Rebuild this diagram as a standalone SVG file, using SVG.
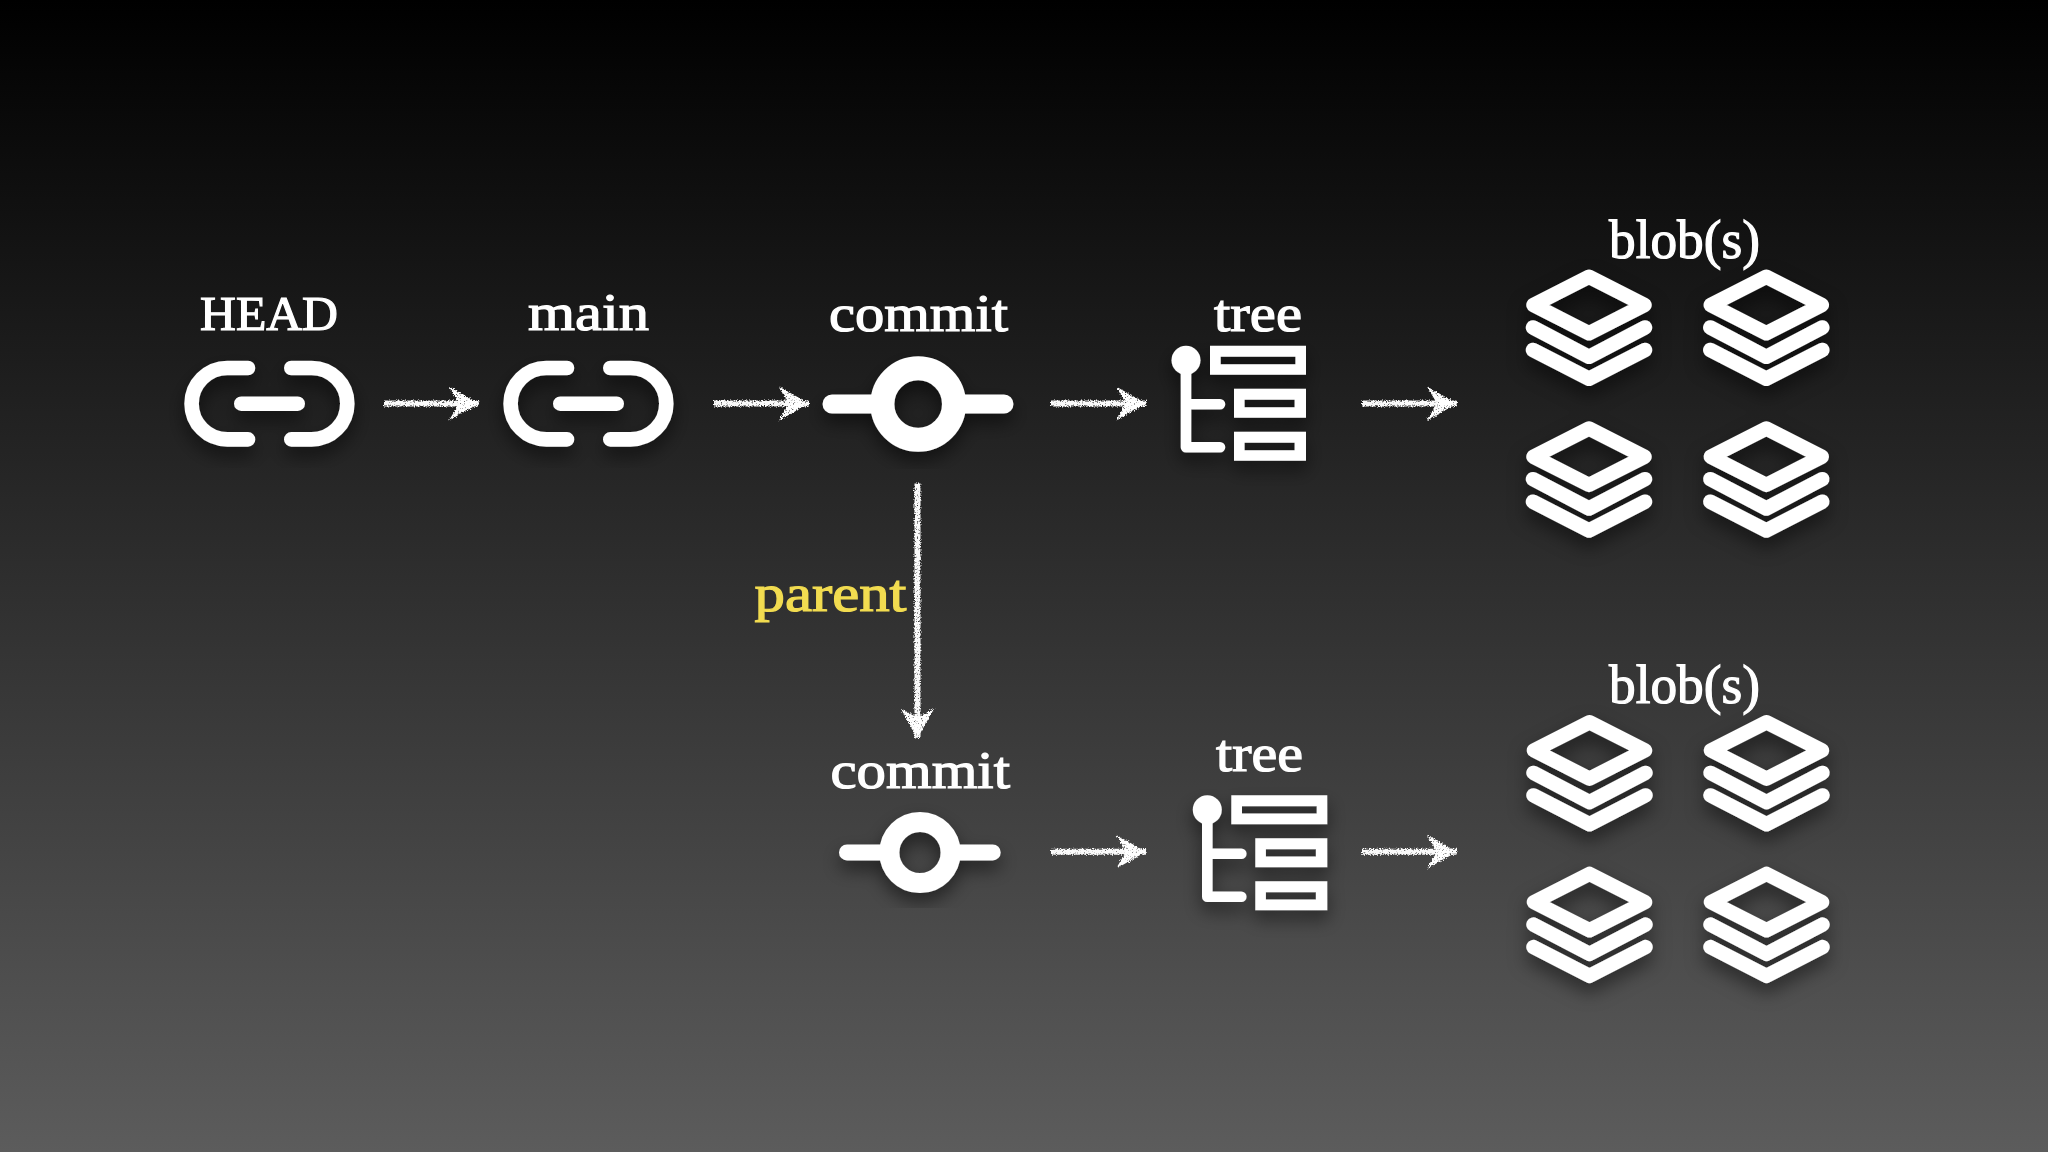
<svg xmlns="http://www.w3.org/2000/svg" width="2048" height="1152" viewBox="0 0 2048 1152">
<style>
.t{font-family:"Liberation Serif","Noto Serif",serif;fill:#fff;stroke:#fff;stroke-width:1.2;text-anchor:start}
.i{fill:none;stroke:#fff;stroke-linecap:round;stroke-linejoin:round}
.f{fill:#fff;stroke:none}
.c{fill:none;stroke:#fafafa;stroke-width:6}
</style>
<defs>
<linearGradient id="bg" x1="0" y1="0" x2="0" y2="1"><stop offset="0" stop-color="#000"/><stop offset="1" stop-color="#5c5c5c"/></linearGradient>
<filter id="sh" x="-30%" y="-30%" width="160%" height="170%"><feDropShadow dx="0" dy="9" stdDeviation="9" flood-color="#000" flood-opacity=".5"/></filter>
<filter id="chalk" filterUnits="userSpaceOnUse" x="0" y="0" width="2048" height="1152"><feTurbulence type="fractalNoise" baseFrequency=".75" numOctaves="2" seed="4" result="n"/><feDisplacementMap in="SourceGraphic" in2="n" scale="4.5" xChannelSelector="R" yChannelSelector="G" result="d"/><feColorMatrix in="n" type="matrix" values="0 0 0 0 0 0 0 0 0 0 0 0 0 0 0 5 0 0 0 -0.9" result="m"/><feComposite in="d" in2="m" operator="in"/></filter>
<marker id="ah" markerUnits="userSpaceOnUse" markerWidth="40" markerHeight="40" refX="30" refY="17" orient="auto" overflow="visible"><path d="M0 0 30 17 0 34 10 17Z" fill="#fff"/></marker>
<g id="link"><path class="i" stroke-width="14.6" d="M248 368H227.300A35.700 35.700 0 0 0 227.300 439.400H248M291.300 368H311.600A35.700 35.700 0 0 1 311.600 439.400H291.300M241.300 403.700H297.700"/></g>
<g id="stack"><path class="i" stroke-width="14.5" d="M0-28.200 55.500 0 0 28.200-55.500 0ZM-56 22.500 0 51.800 56 22.500M-56 45 0 73.800 56 45"/></g>
<g id="treeicon"><path class="i" stroke-width="10.600" d="M0 0V87H34M0 44H34"/><circle class="f" cx="0" cy="0" r="14.500"/><path class="f" fill-rule="evenodd" d="M24-14.500h96v29h-96ZM34.700-3.500v7.400h74.700v-7.400ZM48 28.500h72v29h-72ZM58.600 39.500v7.400h50v-7.400ZM48 71.500h72v29h-72ZM58.600 82.500v7.400h50v-7.400Z"/></g>
</defs>
<rect width="2048" height="1152" fill="url(#bg)"/>
<g id="connectors" filter="url(#chalk)">
<line class="c" x1="384" y1="403.500" x2="479" y2="403.500" marker-end="url(#ah)"/>
<line class="c" x1="714" y1="403.500" x2="809" y2="403.500" marker-end="url(#ah)"/>
<line class="c" x1="1051" y1="403.500" x2="1146" y2="403.500" marker-end="url(#ah)"/>
<line class="c" x1="1362" y1="403.500" x2="1457" y2="403.500" marker-end="url(#ah)"/>
<line class="c" x1="1051" y1="851.700" x2="1146" y2="851.700" marker-end="url(#ah)"/>
<line class="c" x1="1362" y1="851.700" x2="1457" y2="851.700" marker-end="url(#ah)"/>
<line class="c" x1="917.500" y1="483.500" x2="917.500" y2="738" marker-end="url(#ah)"/>
</g>
<g id="head"><text class="t" x="200" y="330" font-size="48" textLength="138" lengthAdjust="spacingAndGlyphs">HEAD</text><use href="#link" filter="url(#sh)"/></g>
<g id="main"><text class="t" x="528" y="330" font-size="52" textLength="121" lengthAdjust="spacingAndGlyphs">main</text><use href="#link" x="319" filter="url(#sh)"/></g>
<g id="commit1"><text class="t" x="829" y="330.500" font-size="52" textLength="179" lengthAdjust="spacingAndGlyphs">commit</text>
<g filter="url(#sh)"><path class="i" stroke-width="19" d="M832 404H880M956 404H1004"/><circle cx="918.200" cy="404" r="35.800" fill="none" stroke="#fff" stroke-width="24"/></g></g>
<g id="tree1"><text class="t" x="1214" y="330.500" font-size="52" textLength="88" lengthAdjust="spacingAndGlyphs">tree</text><use href="#treeicon" x="1186" y="360.300" filter="url(#sh)"/></g>
<g id="blobs1"><text class="t" x="1609" y="258" font-size="55" textLength="151" lengthAdjust="spacingAndGlyphs">blob(s)</text>
<g filter="url(#sh)"><use href="#stack" x="1589" y="305"/><use href="#stack" x="1766.300" y="305"/><use href="#stack" x="1589" y="456.700"/><use href="#stack" x="1766.300" y="456.700"/></g></g>
<g id="parent-label"><text class="t" x="754.500" y="610.700" font-size="52" textLength="152" lengthAdjust="spacingAndGlyphs" style="fill:#f2dc50;stroke:#f2dc50">parent</text></g>
<g id="commit2"><text class="t" x="830.500" y="788.300" font-size="52" textLength="179.500" lengthAdjust="spacingAndGlyphs">commit</text>
<g filter="url(#sh)"><path class="i" stroke-width="16" d="M847 852.400H885M955 852.400H992.700"/><circle cx="920" cy="852.500" r="30.600" fill="none" stroke="#fff" stroke-width="20"/></g></g>
<g id="tree2"><text class="t" x="1216" y="770.700" font-size="52" textLength="87" lengthAdjust="spacingAndGlyphs">tree</text><use href="#treeicon" x="1207.300" y="809.700" filter="url(#sh)"/></g>
<g id="blobs2"><text class="t" x="1609" y="703" font-size="55" textLength="151" lengthAdjust="spacingAndGlyphs">blob(s)</text>
<g filter="url(#sh)"><use href="#stack" x="1589.500" y="750.400"/><use href="#stack" x="1766.500" y="750.400"/><use href="#stack" x="1589.500" y="902.100"/><use href="#stack" x="1766.500" y="902.100"/></g></g>
</svg>
